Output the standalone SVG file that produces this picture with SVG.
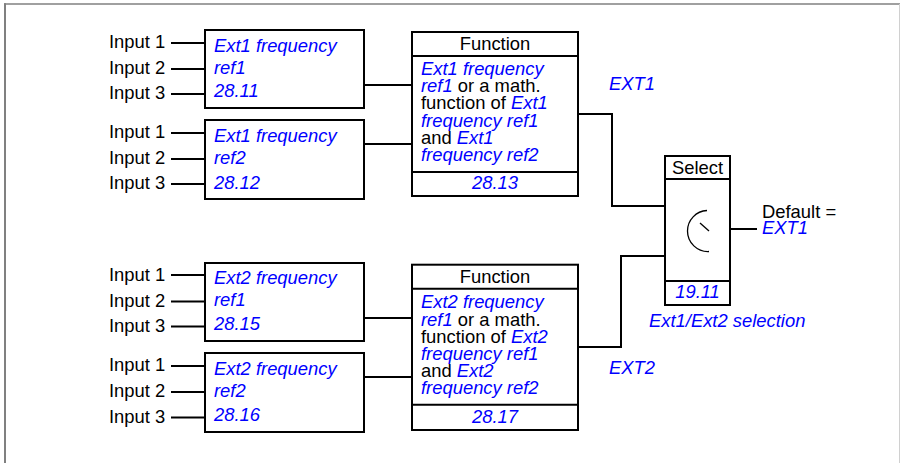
<svg xmlns="http://www.w3.org/2000/svg" width="900" height="463" viewBox="0 0 900 463">
<style>
text{font-family:"Liberation Sans",Arial,sans-serif;font-size:18.4px;fill:#000}
.b{fill:#0000ff;font-style:italic}
.c{text-anchor:middle}
.box{fill:#fff;stroke:#000;stroke-width:2}
.ln{fill:none;stroke:#000;stroke-width:2}
</style>
<rect x="0" y="0" width="900" height="463" fill="#fff"/>
<line x1="4" y1="4" x2="900" y2="4" stroke="#808080" stroke-width="1.5"/>
<line x1="5" y1="3.3" x2="5" y2="463" stroke="#808080" stroke-width="2"/>
<line x1="899.5" y1="4" x2="899.5" y2="463" stroke="#d0d0d0" stroke-width="1"/>

<g id="connectors" class="ln">
<path d="M171 43H205M171 69H205M171 94H205"/>
<path d="M171 133H205M171 159H205M171 184H205"/>
<path d="M171 275H205M171 301.5H205M171 326.5H205"/>
<path d="M171 366H205M171 392H205M171 417.5H205"/>
<path d="M364 85H412M364 144H412M364 318H412M364 377H412"/>
<path d="M578 114H612V206H665"/>
<path d="M578 347H621V256H665"/>
<path d="M730 229H757"/>
</g>

<g id="inputs1">
<text x="109" y="48">Input 1</text>
<text x="109" y="74">Input 2</text>
<text x="109" y="99">Input 3</text>
<text x="109" y="138">Input 1</text>
<text x="109" y="164">Input 2</text>
<text x="109" y="189">Input 3</text>
</g>
<g id="inputs2">
<text x="109" y="281">Input 1</text>
<text x="109" y="306.5">Input 2</text>
<text x="109" y="331.5">Input 3</text>
<text x="109" y="371">Input 1</text>
<text x="109" y="397">Input 2</text>
<text x="109" y="422.5">Input 3</text>
</g>

<g id="ext1ref1">
<rect class="box" x="205" y="30" width="159" height="78"/>
<text class="b" x="214" y="52">Ext1 frequency</text>
<text class="b" x="214" y="73.5">ref1</text>
<text class="b" x="214" y="96.5">28.11</text>
</g>
<g id="ext1ref2">
<rect class="box" x="205" y="120" width="159" height="79"/>
<text class="b" x="214" y="142">Ext1 frequency</text>
<text class="b" x="214" y="163.5">ref2</text>
<text class="b" x="214" y="188.5">28.12</text>
</g>
<g id="ext2ref1">
<rect class="box" x="205" y="263" width="159" height="78"/>
<text class="b" x="214" y="284">Ext2 frequency</text>
<text class="b" x="214" y="305.7">ref1</text>
<text class="b" x="214" y="330">28.15</text>
</g>
<g id="ext2ref2">
<rect class="box" x="205" y="353" width="159" height="79"/>
<text class="b" x="214" y="374.7">Ext2 frequency</text>
<text class="b" x="214" y="396.7">ref2</text>
<text class="b" x="214" y="421">28.16</text>
</g>

<g id="function1">
<rect class="box" x="412" y="32" width="166" height="164"/>
<line class="ln" x1="412" y1="56" x2="578" y2="56"/>
<line class="ln" x1="412" y1="172" x2="578" y2="172"/>
<text class="c" x="495" y="50">Function</text>
<text class="b" x="421" y="75">Ext1 frequency</text>
<text x="421" y="92.2"><tspan class="b">ref1</tspan> or a math.</text>
<text x="421" y="109.4">function of <tspan class="b">Ext1</tspan></text>
<text class="b" x="421" y="126.6">frequency ref1</text>
<text x="421" y="143.8">and <tspan class="b">Ext1</tspan></text>
<text class="b" x="421" y="161">frequency ref2</text>
<text class="b c" x="495" y="189">28.13</text>
</g>
<g id="function2">
<rect class="box" x="412" y="264.7" width="166" height="165.3"/>
<line class="ln" x1="412" y1="288.7" x2="578" y2="288.7"/>
<line class="ln" x1="412" y1="404.7" x2="578" y2="404.7"/>
<text class="c" x="495" y="282.7">Function</text>
<text class="b" x="421" y="308.3">Ext2 frequency</text>
<text x="421" y="325.5"><tspan class="b">ref1</tspan> or a math.</text>
<text x="421" y="342.7">function of <tspan class="b">Ext2</tspan></text>
<text class="b" x="421" y="359.9">frequency ref1</text>
<text x="421" y="377.1">and <tspan class="b">Ext2</tspan></text>
<text class="b" x="421" y="394.3">frequency ref2</text>
<text class="b c" x="495" y="422.7">28.17</text>
</g>

<g id="labels">
<text class="b" x="609" y="90">EXT1</text>
<text class="b" x="609" y="374.3">EXT2</text>
</g>

<g id="select">
<rect class="box" x="665" y="156" width="65" height="149"/>
<line class="ln" x1="665" y1="179" x2="730" y2="179"/>
<line class="ln" x1="665" y1="281" x2="730" y2="281"/>
<text class="c" x="697.5" y="174">Select</text>
<path d="M707 210.5A20.5 20.5 0 0 0 687.5 231A20.5 20.5 0 0 0 709 251.5" fill="none" stroke="#000" stroke-width="1.3"/>
<line x1="700" y1="223" x2="709" y2="231" stroke="#000" stroke-width="1.3"/>
<text class="b c" x="697.5" y="297.5">19.11</text>
<text class="b" x="649" y="326.7">Ext1/Ext2 selection</text>
<text x="762" y="218">Default =</text>
<text class="b" x="762" y="234">EXT1</text>
</g>
</svg>
